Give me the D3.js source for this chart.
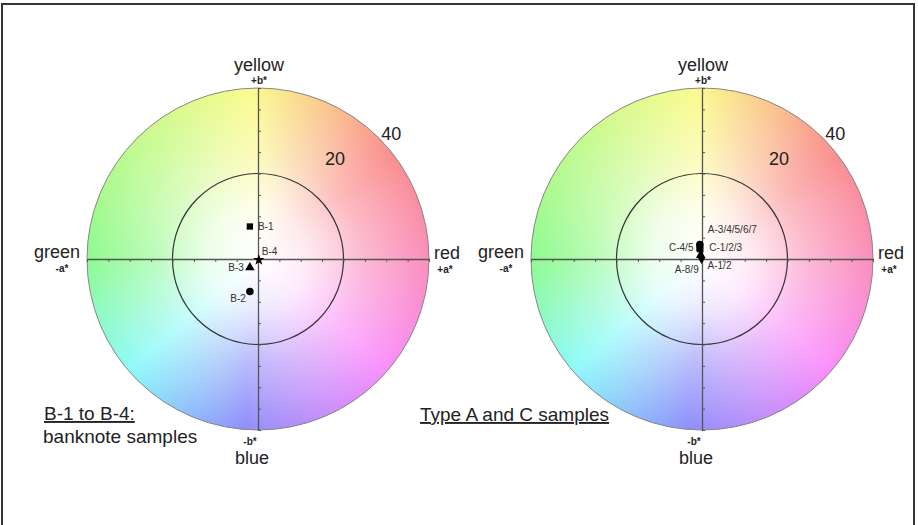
<!DOCTYPE html>
<html>
<head>
<meta charset="utf-8">
<script src="https://cdn.jsdelivr.net/npm/d3@7"></script>
<style>
  body { margin: 0; background: #fff; }
  svg { display: block; font-family: "Liberation Sans", Arial, sans-serif; }
</style>
</head>
<body>
<svg id="chart"></svg>
<script>
// CIELAB a*/b* plane readings
const ringValues = [20, 40]
const tickValues = [-40, -35, -30, -25, -20, -15, -10, -5, 0, 5, 10, 15, 20, 25, 30, 35, 40]

const leftNames = ["B-1", "B-2", "B-3", "B-4"]
const leftA = [-1.9, -1.9, -1.9, 0.2]
const leftB = [7.6, -7.6, -2.0, -0.2]
const leftShapes = ["square", "circle", "triangle", "star"]

const rightNames = ["A-3/4/5/6/7", "C-1/2/3", "C-4/5", "A-8/9", "A-1/2"]
const rightA = [-0.5, -0.4, -0.6, -0.3, -0.1]
const rightB = [3.4, 2.3, 2.5, 0.9, 0.2]
const rightShapes = ["circle", "square", "square", "triangle", "diamond"]

const width = 918
const height = 525
const R = 171

// label placement (style only): dx, dy, anchor
const labelPlace = {
    "B-1": [8, 3, "start"], "B-2": [-4, 11, "end"], "B-3": [-6, 3, "end"], "B-4": [3, -5, "start"],
    "A-3/4/5/6/7": [8, -11, "start"], "C-1/2/3": [9, 2, "start"], "C-4/5": [-6, 3, "end"],
    "A-8/9": [-2, 18, "end"], "A-1/2": [6, 11, "start"]
}

const symbolTypes = {
    square: [d3.symbolSquare, 40], circle: [d3.symbolCircle, 45], triangle: [d3.symbolTriangle, 40],
    star: [d3.symbolStar, 40], diamond: [d3.symbolDiamond, 40]
}

const svg = d3.select('#chart').attr('width', width).attr('height', height)

// frame
svg.append('rect')
    .attr('x', 2).attr('y', 4).attr('width', 912).attr('height', 540)
    .attr('fill', 'none').attr('stroke', '#333').attr('stroke-width', 2)

const defs = svg.append('defs')
const fade = defs.append('radialGradient').attr('id', 'whiteFade')
fade.append('stop').attr('offset', '0%').attr('stop-color', '#fff').attr('stop-opacity', 1)
fade.append('stop').attr('offset', '30%').attr('stop-color', '#fff').attr('stop-opacity', 0.8)
fade.append('stop').attr('offset', '60%').attr('stop-color', '#fff').attr('stop-opacity', 0.4)
fade.append('stop').attr('offset', '100%').attr('stop-color', '#fff').attr('stop-opacity', 0)

// hue of the wheel by angle (counter-clockwise from +a*)
const hueAt = d3.scaleLinear()
    .domain([0, 45, 90, 135, 180, 225, 270, 315, 360])
    .range([335, 365, 418, 450, 480, 545, 605, 655, 695])

const drawPanel = (cx, cy, names, aVals, bVals, shapes) => {
    const g = svg.append('g').attr('transform', `translate(${cx},${cy})`)
    const x = d3.scaleLinear().domain([-40, 40]).range([-R, R])
    const y = d3.scaleLinear().domain([-40, 40]).range([R, -R])

    const arc = d3.arc().innerRadius(0).outerRadius(R)
    g.selectAll('.wedge')
        .data(d3.range(0, 360, 1))
        .join('path')
        .attr('class', 'wedge')
        .attr('d', d => arc({ startAngle: d * Math.PI / 180, endAngle: (d + 1.5) * Math.PI / 180 }))
        .attr('fill', d => d3.hsl(hueAt((90 - d + 360) % 360) % 360, 0.92, 0.77))
    g.append('circle').attr('r', R).attr('fill', 'url(#whiteFade)')

    // rings
    g.selectAll('.ring')
        .data(ringValues)
        .join('circle')
        .attr('class', 'ring')
        .attr('r', d => x(d))
        .attr('fill', 'none')
        .attr('stroke', (d, i) => i === 0 ? '#333' : '#888')
        .attr('stroke-width', (d, i) => i === 0 ? 1.2 : 1)

    // axes
    g.append('g')
        .call(d3.axisBottom(x).tickValues(tickValues).tickSizeInner(3).tickSizeOuter(0).tickFormat(''))
        .call(a => a.select('.domain').attr('stroke', '#555').attr('stroke-width', 1.3))
        .call(a => a.selectAll('.tick line').attr('stroke', '#555'))
    g.append('g')
        .call(d3.axisRight(y).tickValues(tickValues).tickSizeInner(3).tickSizeOuter(0).tickFormat(''))
        .call(a => a.select('.domain').attr('stroke', '#555').attr('stroke-width', 1.3))
        .call(a => a.selectAll('.tick line').attr('stroke', '#555'))

    // ring labels
    g.append('text').attr('x', x(40) * 0.78).attr('y', -x(40) * 0.73 + 6)
        .attr('text-anchor', 'middle').attr('font-size', 18).attr('fill', '#222').text('40')
    g.append('text').attr('x', x(20) * 0.9).attr('y', -x(20) * 1.17 + 6)
        .attr('text-anchor', 'middle').attr('font-size', 18).attr('fill', '#222').text('20')

    // axis names
    const label = (tx, ty, txt, size, bold) => g.append('text')
        .attr('x', tx).attr('y', ty).attr('text-anchor', 'middle')
        .attr('font-size', size).attr('font-weight', bold ? 'bold' : 'normal')
        .attr('fill', '#222').text(txt)
    label(1, -R - 17, 'yellow', 18)
    label(1, -R - 4, '+b*', 10, true)
    label(-R - 30, -1, 'green', 18)
    label(-R - 25, 13, '-a*', 10, true)
    label(R + 18, 0, 'red', 18)
    label(R + 16, 14, '+a*', 10, true)
    label(-8, R + 15, '-b*', 10, true)
    label(-6, R + 34, 'blue', 18)

    // samples
    const pts = names.map((n, i) => ({ name: n, a: aVals[i], b: bVals[i], shape: shapes[i] }))
    g.selectAll('.mark')
        .data(pts)
        .join('path')
        .attr('class', 'mark')
        .attr('transform', d => `translate(${x(d.a)},${y(d.b)})`)
        .attr('d', d => d3.symbol().type(symbolTypes[d.shape][0]).size(symbolTypes[d.shape][1])())
        .attr('fill', '#000')
    g.selectAll('.mlabel')
        .data(pts)
        .join('text')
        .attr('class', 'mlabel')
        .attr('x', d => x(d.a) + labelPlace[d.name][0])
        .attr('y', d => y(d.b) + labelPlace[d.name][1])
        .attr('text-anchor', d => labelPlace[d.name][2])
        .attr('font-size', 10)
        .attr('fill', '#333')
        .text(d => d.name)
}

drawPanel(258, 259, leftNames, leftA, leftB, leftShapes)
drawPanel(702, 259, rightNames, rightA, rightB, rightShapes)

// captions
const caption = (tx, ty, txt, underline) => svg.append('text')
    .attr('x', tx).attr('y', ty).attr('font-size', 19).attr('fill', '#222')
    .attr('text-decoration', underline ? 'underline' : null).text(txt)
caption(44, 420, 'B-1 to B-4:', true)
caption(43, 443, 'banknote samples', false)
caption(420, 421, 'Type A and C samples', true)
</script>
</body>
</html>
